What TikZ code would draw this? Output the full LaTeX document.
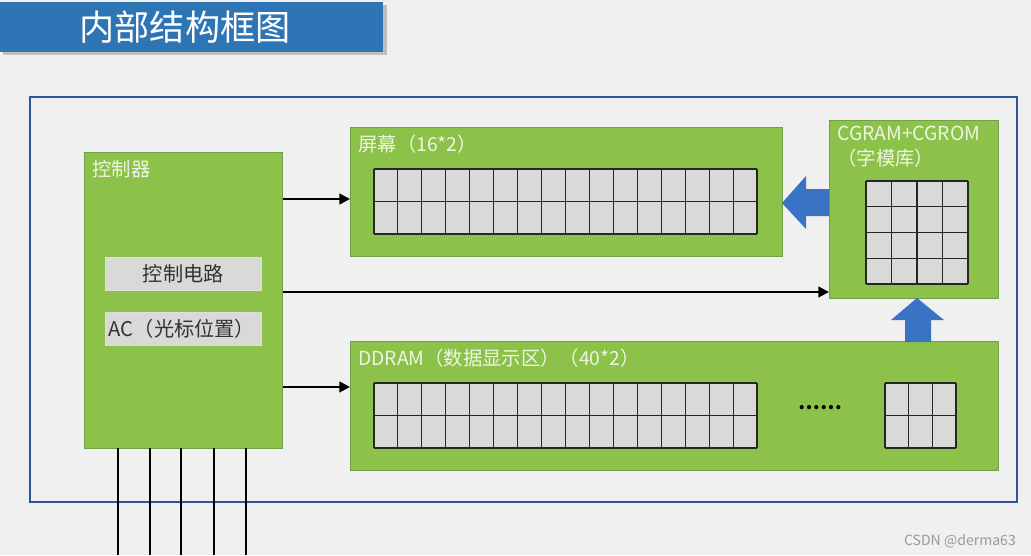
\documentclass[tikz,border=0pt]{standalone}
\usepackage{fontspec}
\setmainfont{Noto Sans CJK SC}
\usetikzlibrary{positioning}
\usetikzlibrary{calc}
\usetikzlibrary{arrows.meta}

\definecolor{bggray}{RGB}{240,240,240}
\definecolor{titleblue}{RGB}{46,117,182}
\definecolor{frameblue}{RGB}{47,85,151}
\definecolor{boxgreen}{RGB}{140,193,74}
\definecolor{boxedge}{RGB}{112,160,72}
\definecolor{cellgray}{RGB}{217,217,217}
\definecolor{arrowblue}{RGB}{59,115,196}
\definecolor{labelwhite}{RGB}{238,246,226}

\tikzset{
  greenbox/.style={draw=boxedge, fill=boxgreen, line width=0.8pt, anchor=north west, inner sep=0pt},
  graybox/.style={draw=white!75!gray, fill=cellgray, anchor=north west, minimum width=3.12cm,
    minimum height=0.66cm, text width=2.98cm, inner xsep=0.07cm, inner ysep=0pt,
    font=\fontsize{11.5}{13}\selectfont, text=black!80},
  boxlabel/.style={text=labelwhite, font=\fontsize{11}{14}\selectfont, anchor=north west, inner sep=0pt},
  wire/.style={line width=1.3pt, -{Triangle[length=6pt,width=6pt]}},
  pin/.style={line width=1.4pt},
  fatarrow/.style={fill=arrowblue},
  cellline/.style={line width=0.6pt, black!85},
}

% grid of cells: x0, y0, x1, y1, columns, rows
\newcommand\cellgrid[6]{%
  \fill[cellgray] (#1,#2) rectangle (#3,#4);
  \foreach \i in {0,...,#5}
    \draw[cellline] ({#1+(#3-#1)*\i/#5},#2) -- ({#1+(#3-#1)*\i/#5},#4);
  \foreach \j in {0,...,#6}
    \draw[cellline] (#1,{#2+(#4-#2)*\j/#6}) -- (#3,{#2+(#4-#2)*\j/#6});
}

\begin{document}
\begin{tikzpicture}[x=0.02cm, y=-0.02cm]
    % background and frame
    \fill[bggray] (0,0) rectangle (1031,555);
    \useasboundingbox (0,0) rectangle (1031,555);
    \draw[frameblue, line width=1.2pt] (30,97) rectangle (1017,502);

    % title bar
    \fill[black!25] (3,5) rectangle (387,55);
    \fill[titleblue] (0,2) rectangle (383,52);
    \node[text=white, font=\fontsize{20}{22}\selectfont] (title) at (185,27) {内部结构框图};

    % blocks
    \node[greenbox, minimum width=3.96cm, minimum height=5.92cm] (ctrl) at (84,152) {};
    \node[greenbox, minimum width=8.64cm, minimum height=2.58cm] (scr)  at (350,127) {};
    \node[greenbox, minimum width=3.38cm, minimum height=3.56cm] (cgr)  at (829,120) {};
    \node[greenbox, minimum width=12.96cm, minimum height=2.58cm] (ddr) at (350,341) {};

    \node[boxlabel] (ctrllab) at ([xshift=0.16cm, yshift=-0.16cm]ctrl.north west) {控制器};
    \node[boxlabel] (scrlab)  at ([xshift=0.16cm, yshift=-0.16cm]scr.north west)  {屏幕（16*2）};
    \node[boxlabel] (ddrlab)  at ([xshift=0.16cm, yshift=-0.16cm]ddr.north west)  {DDRAM（数据显示区）（40*2）};
    \node[boxlabel, align=left] (cgrlab) at ([xshift=0.16cm, yshift=-0.12cm]cgr.north west)
        {CGRAM+CGROM\\（字模库）};

    \node[graybox, align=center] (circ) at (105,257) {控制电路};
    \node[graybox, align=left]   (ac)   at (105,312) {AC（光标位置）};

    % cells
    \cellgrid{374}{169}{757}{234}{16}{2}
    \cellgrid{866}{181}{968}{284}{4}{4}
    \cellgrid{374}{383}{757}{448}{16}{2}
    \cellgrid{885}{383}{956}{448}{3}{2}
    \node[font=\bfseries\fontsize{11}{12}\selectfont] (dots) at (820,408) {……};

    % wide blue arrows
    \fill[fatarrow] (cgr.west |- 0,189) -- (806,189) -- (806,176) -- (782,203)
        -- (806,229) -- (806,216) -- (cgr.west |- 0,216) -- cycle;
    \fill[fatarrow] (905,342) -- (905,320) -- (891,320) -- (917,298)
        -- (944,320) -- (931,320) -- (931,342) -- cycle;

    % signal lines
    \coordinate (w1) at ([yshift=-0.94cm]ctrl.north east);
    \coordinate (w2) at ([yshift=-2.80cm]ctrl.north east);
    \coordinate (w3) at ([yshift=-4.70cm]ctrl.north east);
    \draw[wire] (w1) -- (w1 -| scr.west);
    \draw[wire] (w2) -- (w2 -| cgr.west);
    \draw[wire] (w3) -- (w3 -| ddr.west);

    \foreach \px in {118,150,181,214,246}
        \draw[pin] (\px,448) -- (\px,555);

    \node[text=black!40, font=\fontsize{8}{9}\selectfont, anchor=east] (mark) at (1022,541) {CSDN @derma63};
\end{tikzpicture}
\end{document}
